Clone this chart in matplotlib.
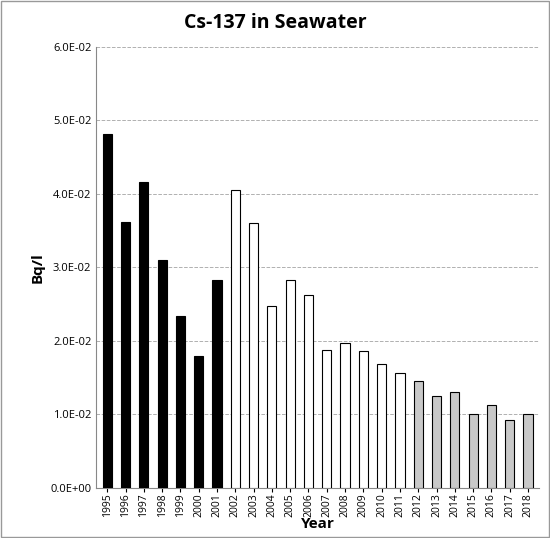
import matplotlib
matplotlib.use("Agg")
import matplotlib.pyplot as plt
from matplotlib.ticker import FuncFormatter

years = [str(y) for y in range(1995, 2019)]
values = [0.0482, 0.0362, 0.0416, 0.0310, 0.0234, 0.0179, 0.0283,
          0.0405, 0.0360, 0.0248, 0.0283, 0.0262, 0.0188, 0.0197,
          0.0186, 0.0168, 0.0157, 0.0146, 0.0125, 0.0131, 0.0101,
          0.0113, 0.0093, 0.0100]
groups = ["black"] * 7 + ["white"] * 10 + ["grey"] * 7
colors = {"black": "#000000", "white": "#ffffff", "grey": "#c8c8c8"}

plt.rcParams['font.family'] = ['Open Sans', 'DejaVu Sans']
fig = plt.figure(figsize=(5.5, 5.38), dpi=100)
ax = fig.add_axes([0.175, 0.093, 0.805, 0.82])
x = range(len(years))
ax.bar(x, values, width=0.5, color=[colors[g] for g in groups],
       edgecolor="black", linewidth=0.8, zorder=3)
ax.set_ylim(0, 0.06)
ax.set_xlim(-0.6, len(years) - 0.4)
ax.set_yticks([i * 0.01 for i in range(7)])
ax.yaxis.set_major_formatter(FuncFormatter(lambda v, p: f"{v:.1E}"))
ax.set_xticks(list(x))
ax.set_xticklabels(years, rotation=90, fontsize=7.5)
ax.tick_params(axis='y', labelsize=8, length=0)
ax.tick_params(axis='x', length=3, pad=1)
ax.grid(axis='y', linestyle='--', color='#b0b0b0', linewidth=0.7, zorder=0)
for s in ["top", "right"]:
    ax.spines[s].set_visible(False)
ax.spines["left"].set_color("#888888")
ax.spines["bottom"].set_color("#888888")
ax.set_ylabel("Bq/l", fontsize=11, fontweight="bold")
ax.set_xlabel("Year", fontsize=11, fontweight="bold", labelpad=0)
fig.suptitle("Cs-137 in Seawater", fontsize=14, fontweight="bold", y=0.975)
fig.patches.append(plt.Rectangle((0.002, 0.002), 0.996, 0.996, transform=fig.transFigure,
                                 fill=False, edgecolor="#999999", linewidth=1))
fig.savefig("out.png", dpi=100)
